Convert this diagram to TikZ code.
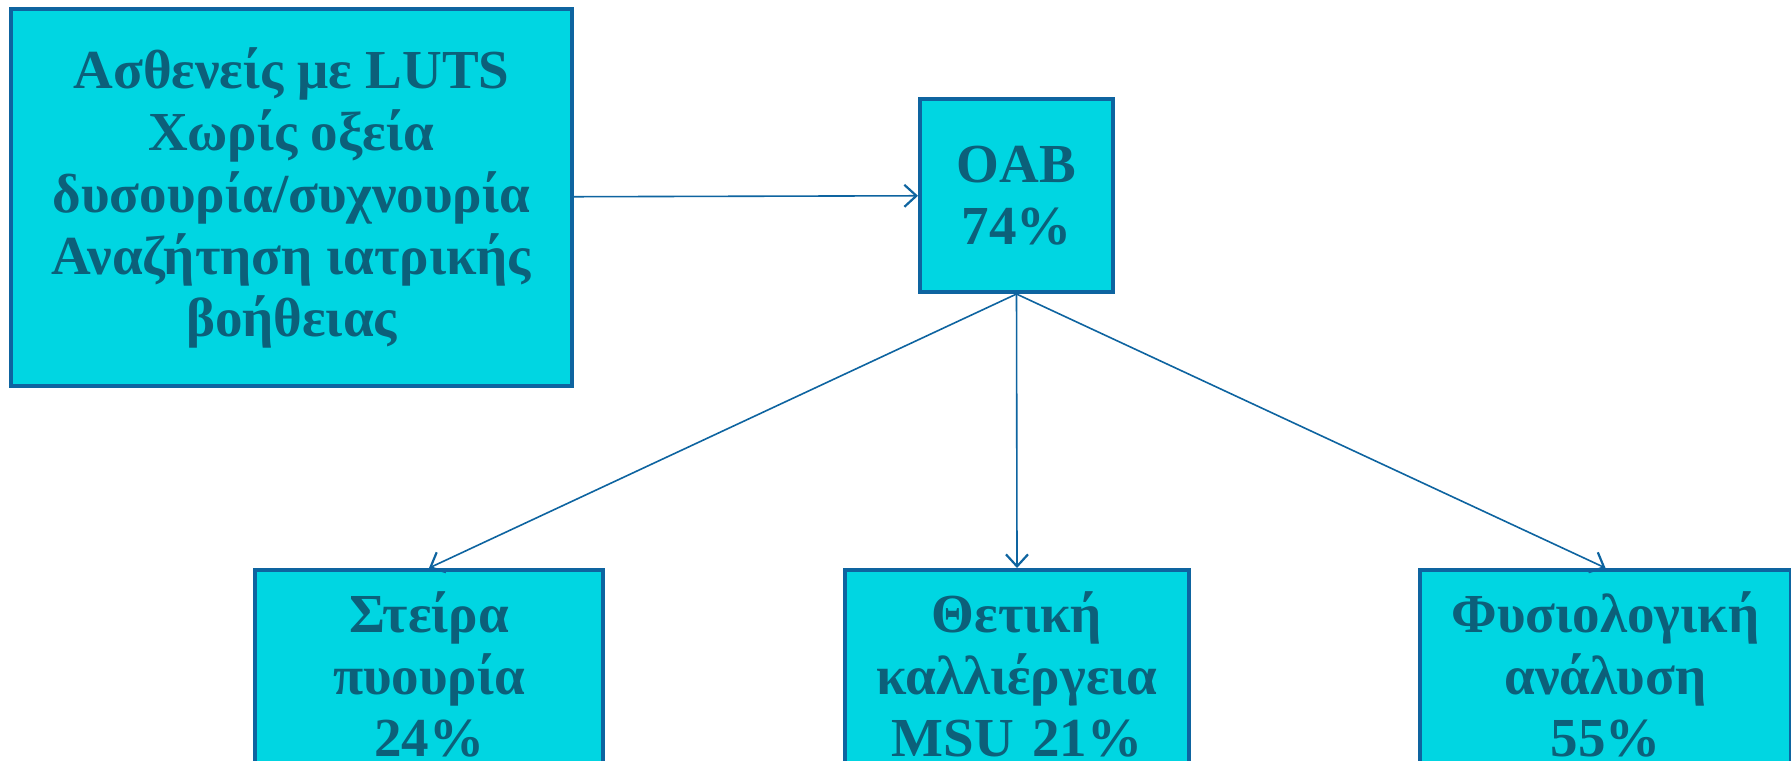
\documentclass[tikz,border=0pt]{standalone}
\usepackage{fontspec}
\setmainfont{Liberation Serif}
\usetikzlibrary{arrows.meta,positioning}
\definecolor{boxfill}{RGB}{0,214,226}
\definecolor{boxline}{RGB}{14,100,160}
\definecolor{boxtext}{RGB}{12,96,122}
\tikzset{
  stepbox/.style={draw=boxline, line width=2pt, fill=boxfill, text=boxtext,
    font=\fontsize{27.5}{31}\selectfont\bfseries, align=center, inner sep=0pt},
  lowbox/.style={stepbox, anchor=north, inner ysep=11pt},
  link/.style={draw=boxline, line width=0.8pt, -{Straight Barb[length=6pt,width=11pt,line width=1.1pt]}}
}
\begin{document}
\begin{tikzpicture}[x=0.5pt,y=-0.5pt]
\clip (0,0) rectangle (1791,760);
\useasboundingbox (0,0) rectangle (1791,760);
\fill[white] (0,0) rectangle (1791,760);
% top row
\node[stepbox, minimum width=280.5pt, minimum height=188.5pt] (patients) at (291.5,197.5)
  {Ασθενείς με LUTS\\Χωρίς οξεία\\δυσουρία/συχνουρία\\Αναζήτηση ιατρικής\\βοήθειας};
\node[stepbox, minimum width=96.5pt, minimum height=96.5pt] (oab) at (1016.5,195.5)
  {OAB\\74\%};
% bottom row
\node[lowbox, minimum width=174pt, text width=170pt] (pyuria) at (429,568)
  {Στείρα\\πυουρία\\24\%};
\node[lowbox, minimum width=172pt, text width=168pt] (culture) at (1017,568)
  {Θετική\\καλλιέργεια\\MSU 21\%};
\node[lowbox, minimum width=185.5pt, text width=181pt] (normal) at (1605.5,568)
  {Φυσιολογική\\ανάλυση\\55\%};
\draw[link] (patients) -- (oab);
\draw[link] (oab.south) -- (pyuria.north);
\draw[link] (oab.south) -- (culture.north);
\draw[link] (oab.south) -- (normal.north);
\end{tikzpicture}
\end{document}
